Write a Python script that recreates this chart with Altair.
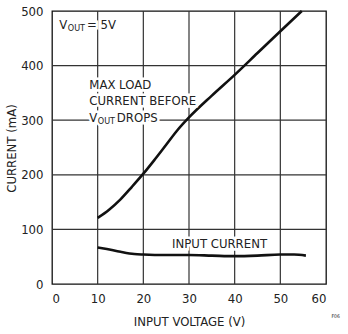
import altair as alt
import pandas as pd

FONT = "DejaVu Sans Condensed, Liberation Sans, sans-serif"

# Max load current before VOUT drops
load_v = [10, 12.5, 15, 17.5, 20, 22.5, 25, 27.5, 30, 35, 40, 45, 50, 54.7]
load_ma = [121, 136, 155, 178, 202, 228, 255, 282, 305, 345, 383, 423, 463, 500]

# Input current
input_v = [10, 12, 15, 18, 20, 25, 30, 35, 40, 45, 50, 53, 55.6]
input_ma = [67, 64, 59, 55, 54, 53, 53, 52, 51, 52, 54, 54, 52]

x_ticks = [0, 10, 20, 30, 40, 50, 60]
y_ticks = [0, 100, 200, 300, 400, 500]
x_grid = [10, 20, 30, 40, 50]
y_grid = [100, 200, 300, 400]

# annotation texts (data coordinates)
ann_text = ["V", "OUT", "= 5V", "MAX LOAD", "CURRENT BEFORE", "V", "OUT", "DROPS", "INPUT CURRENT", "F06"]
ann_x = [1.6, 3.46, 7.67, 8.17, 8.17, 8.17, 10.03, 14.2, 26.3, 61.2]
ann_y = [467, 463, 467, 358, 327, 296, 293, 296, 66, -63]
ann_size = [13, 9, 13, 13, 13, 13, 9, 13, 13, 5]

curves = pd.concat([
    pd.DataFrame({"v": load_v, "ma": load_ma, "s": "load"}),
    pd.DataFrame({"v": input_v, "ma": input_ma, "s": "input"}),
])
ann = pd.DataFrame({"t": ann_text, "v": ann_x, "ma": ann_y, "size": ann_size})
vgrid = pd.DataFrame({"gv": x_grid})
hgrid = pd.DataFrame({"gma": y_grid})

xs = alt.Scale(domain=[0, 60], nice=False, zero=False)
ys = alt.Scale(domain=[0, 500], nice=False)

xaxis = alt.Axis(values=x_ticks, title="INPUT VOLTAGE (V)", grid=False, ticks=False, domain=False,
                 labelPadding=8, labelFontSize=13, labelFont=FONT, labelColor="#222",
                 titleFont=FONT, titleFontSize=13, titleFontWeight="normal", titleColor="#222",
                 titleX=137, titleY=41, titleBaseline="alphabetic", titleAlign="center")
yaxis = alt.Axis(values=y_ticks, title="CURRENT (mA)", grid=False, ticks=False, domain=False,
                 labelPadding=9, labelFontSize=13, labelFont=FONT, labelColor="#222",
                 titleFont=FONT, titleFontSize=13, titleFontWeight="normal", titleColor="#222",
                 titleAngle=270, titleX=-37, titleY=137, titleBaseline="alphabetic", titleAlign="center")

X = lambda f: alt.X(f, scale=xs, axis=xaxis)
Y = lambda f: alt.Y(f, scale=ys, axis=yaxis)

vgrid_layer = alt.Chart(vgrid).mark_rule(color="#333", strokeWidth=1.2).encode(x=X("gv:Q"))
hgrid_layer = alt.Chart(hgrid).mark_rule(color="#333", strokeWidth=1.2).encode(y=Y("gma:Q"))

line_layer = alt.Chart(curves).mark_line(color="#111", strokeWidth=2.6, interpolate="monotone").encode(
    x=X("v:Q"), y=Y("ma:Q"), detail="s:N",
)

halo_layer = alt.Chart(ann).mark_text(align="left", baseline="alphabetic", font=FONT,
                                      fill="white", stroke="white", strokeWidth=5).encode(
    x=X("v:Q"), y=Y("ma:Q"), text="t:N",
    size=alt.Size("size:Q", scale=None),
)

text_layer = alt.Chart(ann).mark_text(align="left", baseline="alphabetic", font=FONT, color="#222").encode(
    x=X("v:Q"), y=Y("ma:Q"), text="t:N",
    size=alt.Size("size:Q", scale=None),
)

chart = alt.layer(vgrid_layer, hgrid_layer, line_layer, halo_layer, text_layer).properties(
    width=274, height=273,
).configure_view(stroke="#111", strokeWidth=1.3)

chart.save("out.html", embed_options={"renderer": "svg", "actions": False})
